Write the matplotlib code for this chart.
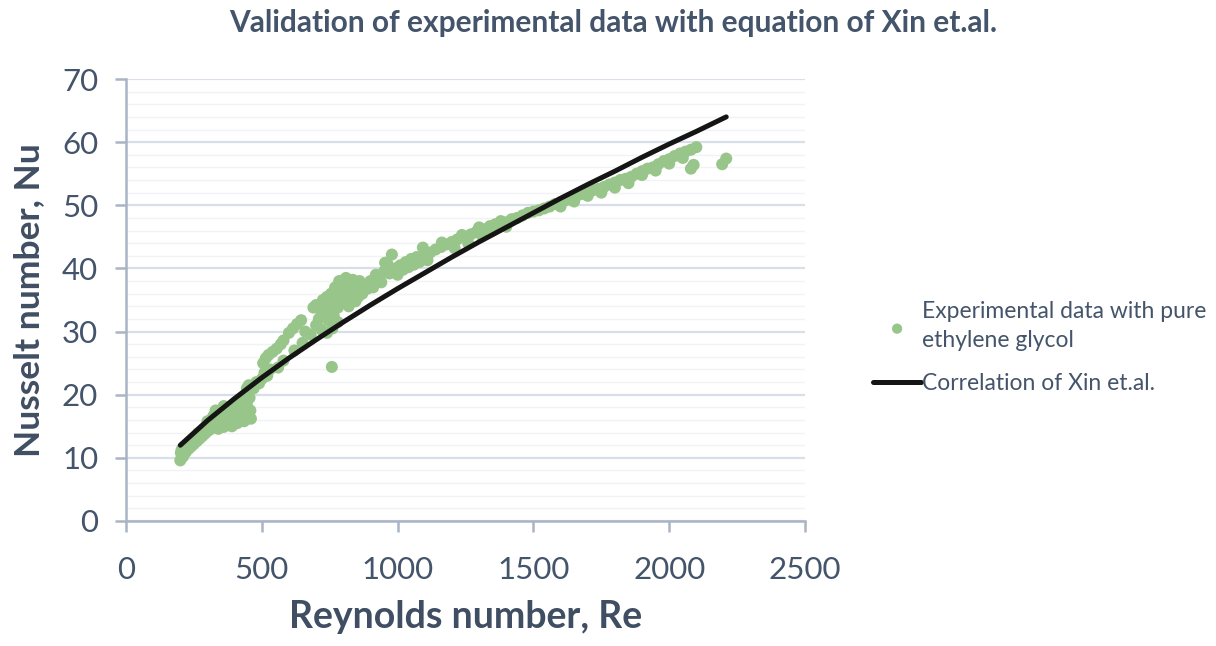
import matplotlib
matplotlib.use("Agg")
import matplotlib.pyplot as plt
from matplotlib.ticker import MultipleLocator

# ---- data ----
exp_re = [200, 202, 205, 210, 215, 220, 225, 230, 235, 240, 245, 250, 255, 260, 265, 270, 275, 280, 285, 290, 295, 300,
          305, 310, 315, 320, 325, 330, 335, 340, 345, 350, 355, 360, 365, 370, 375, 380, 385, 390, 395, 400,
          405, 410, 415, 420, 425, 430, 435, 440, 445, 450, 452, 455, 458, 460, 445, 438, 330, 360, 300, 320,
          470, 480, 490, 500, 510, 520, 530, 505, 515, 525, 540, 555, 570, 580, 560, 580,
          600, 615, 630, 645, 620, 650, 680, 690, 700, 660,
          700, 710, 720, 725, 730, 740, 745, 750, 755, 760, 765, 770, 775, 780, 785, 790, 795, 800, 805, 810,
          815, 820, 825, 830, 835, 840, 845, 850, 855, 860, 870, 880, 890, 760, 780, 740, 720, 758,
          900, 910, 920, 930, 940, 950, 954, 961, 970, 979, 990, 1000, 1010, 1020, 1030, 1040, 1050, 1060,
          1070, 1080, 1093, 1100, 1110,
          1120, 1140, 1160, 1163, 1180, 1200, 1220, 1237, 1250, 1270, 1290, 1300, 1320, 1340, 1360, 1380,
          1400, 1420, 1440, 1460, 1480, 1500, 1210, 1260, 1310, 1350, 1400,
          1520, 1540, 1560, 1580, 1600, 1620, 1640, 1660, 1680, 1700, 1720, 1740, 1760, 1780, 1800, 1820,
          1840, 1860, 1880, 1900, 1920, 1940, 1960, 1980, 2000, 2020, 2040, 2060, 2080, 2100, 1700, 1750,
          1800, 1850, 1900, 1950, 2000, 2050, 1650, 1600, 2080, 2090, 2195, 2210]
exp_nu = [9.6, 10.8, 11.3, 10.2, 11.8, 10.9, 12.2, 11.4, 12.6, 11.8, 13.0, 12.2, 13.4, 12.6, 13.9, 13.0, 14.2, 13.4, 14.6, 13.8, 15.0, 14.2,
          15.4, 14.5, 16.0, 15.0, 16.8, 15.3, 17.2, 14.6, 16.5, 15.8, 17.4, 14.9, 16.2, 17.0, 15.5, 18.0, 16.3, 15.0, 17.6, 16.0,
          18.6, 15.5, 17.2, 19.2, 16.4, 17.8, 15.8, 20.0, 18.4, 16.8, 21.5, 19.5, 17.5, 16.2, 21.0, 19.0, 17.5, 18.2, 15.8, 16.5,
          21.0, 22.0, 21.8, 22.5, 23.5, 23.0, 24.0, 25.0, 25.8, 26.3, 26.8, 27.3, 28.0, 28.6, 24.3, 25.4,
          29.8, 30.5, 31.2, 31.8, 27.0, 28.2, 29.5, 33.8, 34.2, 30.0,
          31.0, 32.0, 33.0, 35.0, 34.0, 35.5, 31.8, 33.2, 36.0, 34.5, 32.5, 37.0, 35.2, 33.8, 38.0, 36.2, 34.5, 37.5, 35.5, 38.5,
          36.5, 34.0, 37.8, 35.8, 38.2, 36.6, 34.8, 37.2, 35.5, 38.0, 36.0, 37.3, 36.8, 30.5, 31.5, 29.8, 30.3, 24.4,
          38.0, 37.0, 39.0, 38.5, 37.8, 39.5, 40.9, 40.9, 39.2, 42.2, 40.0, 39.0, 40.5, 39.8, 41.0, 40.2, 41.5, 40.6,
          41.8, 41.0, 43.3, 42.0, 41.3,
          42.5, 43.0, 43.4, 44.1, 43.8, 44.2, 44.6, 45.3, 45.0, 45.4, 45.8, 46.5, 46.2, 46.7, 47.0, 47.5,
          47.3, 47.8, 48.0, 48.4, 48.8, 49.0, 43.2, 44.0, 45.2, 46.0, 46.6,
          49.2, 49.5, 49.8, 50.2, 50.5, 50.8, 51.2, 51.5, 51.8, 52.2, 52.4, 52.6, 52.9, 53.3, 53.6, 54.0,
          54.2, 54.5, 55.0, 55.4, 55.8, 56.0, 56.5, 57.0, 57.3, 57.8, 58.2, 58.5, 58.8, 59.2, 51.5, 52.0,
          52.8, 53.5, 54.8, 55.5, 56.6, 57.5, 50.6, 49.8, 55.8, 56.4, 56.5, 57.4]

corr_re = [200, 300, 400, 500, 600, 700, 800, 900, 1000, 1100, 1200, 1300, 1400, 1500,
           1600, 1700, 1800, 1900, 2000, 2100, 2210]
corr_nu = [12.0, 15.9, 19.4, 22.7, 25.8, 28.7, 31.5, 34.2, 36.8, 39.3, 41.8, 44.2, 46.5, 48.8,
           51.1, 53.3, 55.4, 57.6, 59.7, 61.7, 64.0]

title = "Validation of experimental data with equation of Xin et.al."
xlabel = "Reynolds number, Re"
ylabel = "Nusselt number, Nu"
label_exp = "Experimental data with pure\nethylene glycol"
label_corr = "Correlation of Xin et.al."

# ---- styling ----
plt.rcParams['font.family'] = ['Lato', 'DejaVu Sans']
txt = '#44546A'
spine_c = '#A9B4C4'

fig = plt.figure(figsize=(12.16, 6.46), dpi=100)
ax = fig.add_axes([0.1036, 0.1935, 0.5584, 0.6842])

ax.scatter(exp_re, exp_nu, s=75, color='#98C58A', edgecolors='none', zorder=3, label=label_exp)
ax.plot(corr_re, corr_nu, color='#151515', lw=3.6, zorder=4, label=label_corr,
        solid_capstyle='round', solid_joinstyle='round')

ax.set_xlim(0, 2500)
ax.set_ylim(0, 70)
ax.xaxis.set_major_locator(MultipleLocator(500))
ax.yaxis.set_major_locator(MultipleLocator(10))
ax.yaxis.set_minor_locator(MultipleLocator(2))

ax.grid(axis='y', which='major', color='#D9DFE8', lw=1.6, zorder=0)
ax.grid(axis='y', which='minor', color='#F1F2F4', lw=1.0, zorder=0)
ax.set_axisbelow(True)

for s in ['top', 'right']:
    ax.spines[s].set_visible(False)
for s in ['left', 'bottom']:
    ax.spines[s].set_color(spine_c)
    ax.spines[s].set_linewidth(1.8)

ax.tick_params(axis='both', which='major', direction='out', length=8, width=1.8,
               color=spine_c, labelcolor=txt, labelsize=22.5)
ax.tick_params(axis='x', which='major', pad=17)
ax.tick_params(axis='y', which='major', pad=12)
ax.tick_params(axis='y', which='minor', length=0)

ax.set_xlabel(xlabel, fontsize=27, fontweight='bold', color='#3F4E62', labelpad=12)
ax.set_ylabel(ylabel, fontsize=25.5, fontweight='bold', color='#3F4E62', labelpad=12)
fig.text(0.504, 0.965, title, ha='center', va='center', fontsize=21.5, fontweight='bold', color='#44546A')

leg = ax.legend(loc='center left', bbox_to_anchor=(0.701, 0.462), bbox_transform=fig.transFigure,
                frameon=False, fontsize=16.5, handlelength=2.1, handletextpad=0.05, labelspacing=0.95,
                markerscale=0.85)
for t in leg.get_texts():
    t.set_color(txt)
    t.set_linespacing(1.45)

fig.savefig('out.png', dpi=100)
